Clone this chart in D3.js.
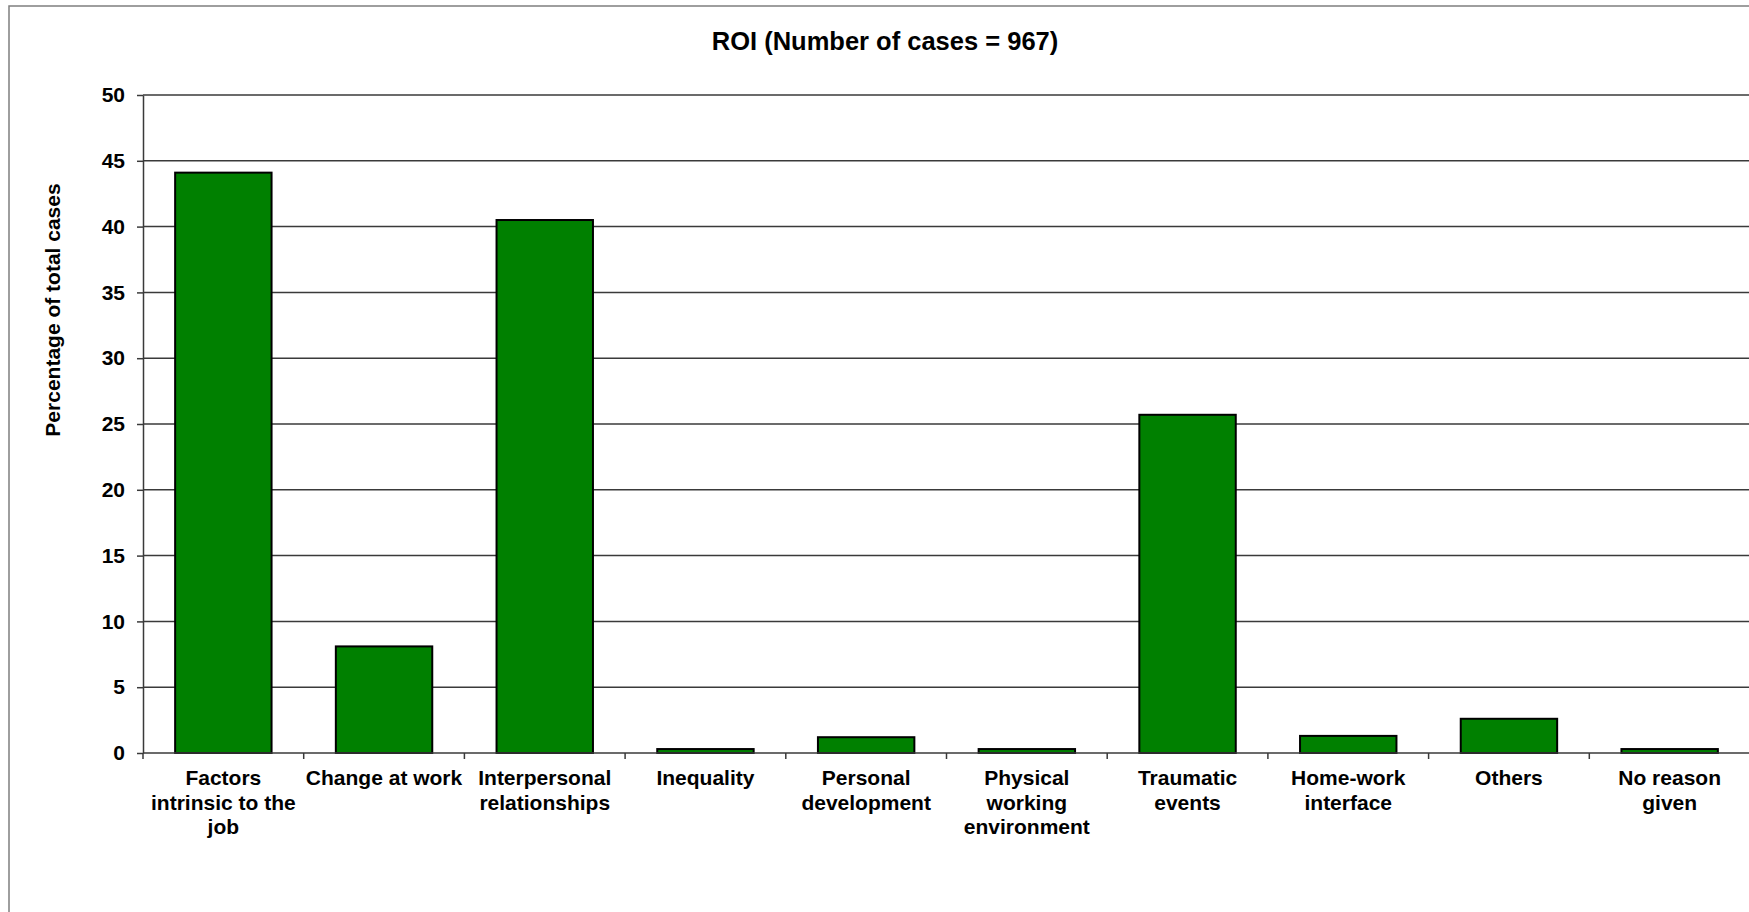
<!DOCTYPE html>
<html>
<head>
<meta charset="utf-8">
<script src="https://cdn.jsdelivr.net/npm/d3@7"></script>
<style>
  html, body { margin: 0; padding: 0; background: #fff; }
  svg { display: block; }
  text { font-family: "Liberation Sans", Arial, sans-serif; font-weight: bold; fill: #000; }
</style>
</head>
<body>
<svg id="chart" width="1749" height="912"></svg>
<script>
const title = "ROI (Number of cases = 967)";
const yAxisLabel = "Percentage of total cases";
const categories = [
  "Factors intrinsic to the job", "Change at work", "Interpersonal relationships",
  "Inequality", "Personal development", "Physical working environment",
  "Traumatic events", "Home-work interface", "Others", "No reason given"
];
const tickLabelLines = [
  ["Factors", "intrinsic to the", "job"], ["Change at work"], ["Interpersonal", "relationships"],
  ["Inequality"], ["Personal", "development"], ["Physical", "working", "environment"],
  ["Traumatic", "events"], ["Home-work", "interface"], ["Others"], ["No reason", "given"]
];
const values = [44.1, 8.1, 40.5, 0.3, 1.2, 0.3, 25.7, 1.3, 2.6, 0.3];
const yTicks = [0, 5, 10, 15, 20, 25, 30, 35, 40, 45, 50];

const svg = d3.select("#chart");
const plot = { left: 143, right: 1750, top: 95, bottom: 753 };

// outer chart border
svg.append("rect").attr("x", 9).attr("y", 6).attr("width", 1780).attr("height", 940)
  .attr("fill", "none").attr("stroke", "#7f7f7f").attr("stroke-width", 1.5);

const x = d3.scaleBand().domain(categories).range([plot.left, plot.right])
  .paddingInner(0.4).paddingOuter(0.2);
const y = d3.scaleLinear().domain([0, 50]).range([plot.bottom, plot.top]);

// gridlines
svg.append("g").selectAll("line").data(yTicks.filter(d => d > 0)).join("line")
  .attr("x1", plot.left).attr("x2", plot.right)
  .attr("y1", d => y(d)).attr("y2", d => y(d))
  .attr("stroke", "#3a3a3a").attr("stroke-width", 1.5);

// y axis
const yAxis = svg.append("g").attr("transform", `translate(${plot.left},0)`)
  .call(d3.axisLeft(y).tickValues(yTicks).tickSize(6).tickPadding(12).tickSizeOuter(0));
yAxis.select(".domain").attr("stroke", "#3a3a3a").attr("stroke-width", 1.5);
yAxis.selectAll(".tick line").attr("stroke", "#3a3a3a").attr("stroke-width", 1.5);
yAxis.selectAll(".tick text").style("font-size", "21px")
  .style("font-family", "'Liberation Sans', Arial, sans-serif").style("font-weight", "bold").attr("fill", "#000");

// bars
svg.append("g").selectAll("rect").data(values).join("rect")
  .attr("x", (d, i) => x(categories[i]))
  .attr("width", x.bandwidth())
  .attr("y", d => y(d))
  .attr("height", d => y(0) - y(d))
  .attr("fill", "#008000").attr("stroke", "#000").attr("stroke-width", 2);

// x axis line and ticks at category boundaries
svg.append("line").attr("x1", plot.left).attr("x2", plot.right)
  .attr("y1", y(0)).attr("y2", y(0)).attr("stroke", "#3a3a3a").attr("stroke-width", 1.5);
const step = x.step();
const boundaries = d3.range(categories.length + 1).map(i => plot.left + i * step);
svg.append("g").selectAll("line").data(boundaries).join("line")
  .attr("x1", d => d).attr("x2", d => d)
  .attr("y1", y(0)).attr("y2", y(0) + 6)
  .attr("stroke", "#3a3a3a").attr("stroke-width", 1.5);

// x tick labels
const xl = svg.append("g");
categories.forEach((c, i) => {
  const t = xl.append("text")
    .attr("x", x(c) + x.bandwidth() / 2)
    .attr("y", y(0) + 32)
    .attr("text-anchor", "middle")
    .style("font-size", "21px");
  tickLabelLines[i].forEach((line, j) => {
    t.append("tspan").attr("x", x(c) + x.bandwidth() / 2).attr("dy", j === 0 ? 0 : 24.5).text(line);
  });
});

// title
svg.append("text").attr("x", 885).attr("y", 50).attr("text-anchor", "middle")
  .style("font-size", "25.5px").text(title);

// y axis label
svg.append("text").attr("transform", "translate(60,310) rotate(-90)")
  .attr("text-anchor", "middle").style("font-size", "21px").text(yAxisLabel);
</script>
</body>
</html>
